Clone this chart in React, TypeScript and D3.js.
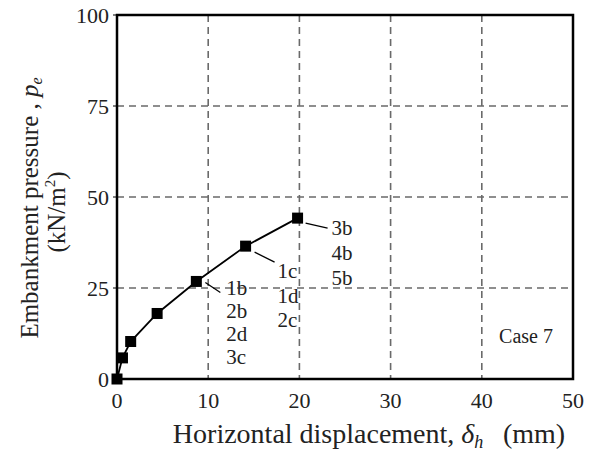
import React from "react";
import * as d3 from "d3";

// Measured response, Case 7
const displacement = [0, 0.6, 1.5, 4.4, 8.7, 14.1, 19.8];
const pressure = [0, 5.8, 10.3, 18.0, 26.8, 36.5, 44.2];

const xTicks = [0, 10, 20, 30, 40, 50];
const yTicks = [0, 25, 50, 75, 100];
const gridX = [10, 20, 30, 40];
const gridY = [25, 50, 75];

// Stage labels attached to points (index into data arrays)
const annoPoint = [4, 5, 6];
const annoLabels = [
  ["1b", "2b", "2d", "3c"],
  ["1c", "1d", "2c"],
  ["3b", "4b", "5b"],
];

const W = 589;
const H = 452;
const M = { left: 117, right: 16, top: 15, bottom: 73 };
const FONT = "'Liberation Serif', 'Times New Roman', serif";

export default function App() {
  const x = d3.scaleLinear().domain([0, 50]).range([M.left, W - M.right]);
  const y = d3.scaleLinear().domain([0, 100]).range([H - M.bottom, M.top]);
  const pts = displacement.map((d, i) => [x(d), y(pressure[i])] as [number, number]);
  const line = d3.line()(pts) || "";
  const [x0, x1] = x.range();
  const [y0, y1] = y.range();
  const sq = 11;

  // leader offsets and text placement relative to the point
  const anno = [
    { dx0: 9, dy0: 1, dx1: 24, dy1: 11, tx: 30, ty: 14, step: 22.8 },
    { dx0: 9, dy0: 6, dx1: 29, dy1: 16, tx: 32, ty: 32, step: 24.5 },
    { dx0: 8, dy0: 5, dx1: 30, dy1: 10, tx: 34, ty: 17, step: 25 },
  ];

  return (
    <svg width={W} height={H} style={{ display: "block", position: "absolute", left: 0, top: 0 }}>
      <rect width={W} height={H} fill="#fff" />
      {gridX.map((v) => (
        <line key={"gx" + v} x1={x(v)} x2={x(v)} y1={y1} y2={y0} stroke="#6a6a6a" strokeWidth={1.6} strokeDasharray="7 5" />
      ))}
      {gridY.map((v) => (
        <line key={"gy" + v} x1={x0} x2={x1} y1={y(v)} y2={y(v)} stroke="#6a6a6a" strokeWidth={1.6} strokeDasharray="7 5" />
      ))}
      <rect x={x0} y={y1} width={x1 - x0} height={y0 - y1} fill="none" stroke="#000" strokeWidth={2.5} />
      {yTicks.map((v) => (
        <line key={"yt" + v} x1={x0 - 4} x2={x0} y1={y(v)} y2={y(v)} stroke="#000" strokeWidth={1} />
      ))}
      {yTicks.map((v) => (
        <text key={"yl" + v} x={x0 - 8} y={y(v) + 7.5} textAnchor="end" fontFamily={FONT} fontSize={22} fill="#222">
          {v}
        </text>
      ))}
      {xTicks.map((v) => (
        <text key={"xl" + v} x={x(v)} y={y0 + 29} textAnchor="middle" fontFamily={FONT} fontSize={22} fill="#222">
          {v}
        </text>
      ))}
      <path d={line} fill="none" stroke="#000" strokeWidth={1.8} />
      {pts.map(([px, py], i) => (
        <rect key={"p" + i} x={px - sq / 2} y={py - sq / 2} width={sq} height={sq} fill="#000" />
      ))}
      {annoPoint.map((pi, k) => {
        const [px, py] = pts[pi];
        const a = anno[k];
        return (
          <g key={"a" + k}>
            <line x1={px + a.dx0} y1={py + a.dy0} x2={px + a.dx1} y2={py + a.dy1} stroke="#000" strokeWidth={1.3} />
            {annoLabels[k].map((t, j) => (
              <text key={t} x={px + a.tx} y={py + a.ty + j * a.step} fontFamily={FONT} fontSize={21} fill="#222">
                {t}
              </text>
            ))}
          </g>
        );
      })}
      <text x={526} y={343} textAnchor="middle" fontFamily={FONT} fontSize={20} fill="#222">
        Case 7
      </text>
      <text x={369} y={443} textAnchor="middle" fontFamily={FONT} fontSize={28} fill="#222">
        Horizontal displacement, <tspan fontStyle="italic">δ</tspan>
        <tspan fontStyle="italic" fontSize={18} dy={5}>h</tspan>
        <tspan dy={-5}>{"\u2002\u2009(mm)"}</tspan>
      </text>
      <g transform="translate(38,208) rotate(-90)">
        <text x={0} y={0} textAnchor="middle" fontFamily={FONT} fontSize={25} fill="#222">
          Embankment pressure , <tspan fontStyle="italic">p</tspan>
          <tspan fontStyle="italic" fontSize={16} dy={4}>e</tspan>
        </text>
        <text x={-4} y={27} textAnchor="middle" fontFamily={FONT} fontSize={25} fill="#222">
          (kN/m<tspan fontSize={15} dy={-10}>2</tspan>
          <tspan dy={10}>)</tspan>
        </text>
      </g>
    </svg>
  );
}
